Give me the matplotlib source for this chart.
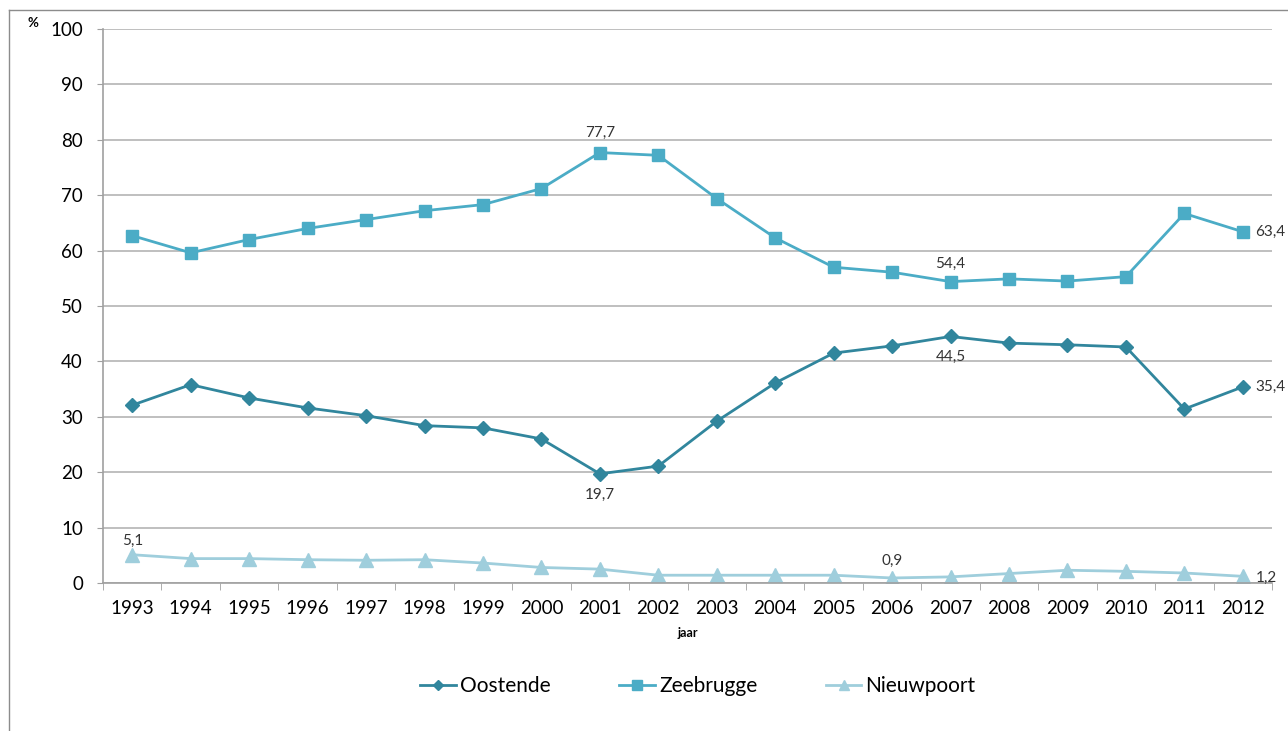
import matplotlib
matplotlib.use("Agg")
import matplotlib.pyplot as plt
from matplotlib.lines import Line2D

plt.rcParams['font.family'] = ['Lato', 'DejaVu Sans']

years = list(range(1993, 2013))
oostende = [32.1, 35.8, 33.4, 31.6, 30.2, 28.4, 28.0, 26.0, 19.7, 21.1,
            29.2, 36.1, 41.5, 42.8, 44.5, 43.3, 43.0, 42.6, 31.4, 35.4]
zeebrugge = [62.7, 59.6, 62.0, 64.0, 65.6, 67.2, 68.3, 71.2, 77.7, 77.2,
             69.4, 62.3, 57.0, 56.1, 54.4, 54.9, 54.5, 55.3, 66.7, 63.4]
nieuwpoort = [5.1, 4.4, 4.4, 4.2, 4.1, 4.2, 3.6, 2.8, 2.5, 1.4,
              1.4, 1.4, 1.4, 0.9, 1.1, 1.7, 2.3, 2.1, 1.8, 1.2]

# (series, year index, text, offset in points)
labels = [
    (zeebrugge, 8, "77,7", (0, 14)),
    (zeebrugge, 14, "54,4", (0, 13)),
    (zeebrugge, 19, "63,4", (9, 0)),
    (oostende, 14, "44,5", (0, -15)),
    (oostende, 8, "19,7", (0, -15)),
    (oostende, 19, "35,4", (9, 0)),
    (nieuwpoort, 0, "5,1", (0, 10)),
    (nieuwpoort, 13, "0,9", (0, 12)),
    (nieuwpoort, 19, "1,2", (9, -1)),
]

c_oost = '#31869d'
c_zee = '#4bacc6'
c_nieuw = '#9fcedc'

fig = plt.figure(figsize=(12.88, 7.31), dpi=100)
ax = fig.add_axes([0.080, 0.2025, 0.9076, 0.7578])

x = list(range(len(years)))
ax.plot(x, oostende, color=c_oost, lw=2.0, marker='D', ms=7, label='Oostende')
ax.plot(x, zeebrugge, color=c_zee, lw=2.0, marker='s', ms=9, label='Zeebrugge')
ax.plot(x, nieuwpoort, color=c_nieuw, lw=2.0, marker='^', ms=10, label='Nieuwpoort')

for series, i, txt, off in labels:
    ha = 'left' if off[0] > 0 else 'center'
    ax.annotate(txt, (i, series[i]), xytext=off, textcoords='offset points',
                ha=ha, va='center', fontsize=11, color='#333333')

ax.set_xlim(-0.5, len(years) - 0.5)
ax.set_ylim(0, 100)
ax.set_yticks(range(0, 101, 10))
ax.set_xticks(x)
ax.set_xticklabels([str(y) for y in years], fontsize=13.5)
ax.set_xticks([i - 0.5 for i in range(len(years) + 1)], minor=True)
ax.tick_params(axis='x', which='major', length=0, pad=12)
ax.tick_params(axis='x', which='minor', length=5, color='#a0a0a0')
ax.tick_params(axis='y', length=4.5, color='#a0a0a0', labelsize=13.5, pad=10)
ax.grid(axis='y', color='#b4b4b4', lw=1.2)
ax.set_axisbelow(True)
for s in ['top', 'right']:
    ax.spines[s].set_visible(False)
for s in ['left', 'bottom']:
    ax.spines[s].set_color('#a0a0a0')
    ax.spines[s].set_linewidth(1.2)

fig.text(688 / 1288, 1 - 633 / 731, 'jaar', ha='center', va='center',
         fontsize=9, fontweight='bold')
fig.text(33 / 1288, 1 - 23 / 731, '%', ha='center', va='center',
         fontsize=9.5, fontweight='bold')

fig.legend(loc='center', bbox_to_anchor=(698 / 1288, 1 - 686 / 731), ncol=3,
           frameon=False, fontsize=15, handlelength=1.7, handletextpad=0.2,
           columnspacing=3.3, markerscale=0.75)

# outer chart border
fig.add_artist(Line2D([9 / 1288, 9 / 1288], [0, 1 - 10 / 731],
                      transform=fig.transFigure, color='#8c8c8c', lw=1))
fig.add_artist(Line2D([9 / 1288, 1], [1 - 10 / 731, 1 - 10 / 731],
                      transform=fig.transFigure, color='#8c8c8c', lw=1))

fig.savefig('out.png', dpi=100)
